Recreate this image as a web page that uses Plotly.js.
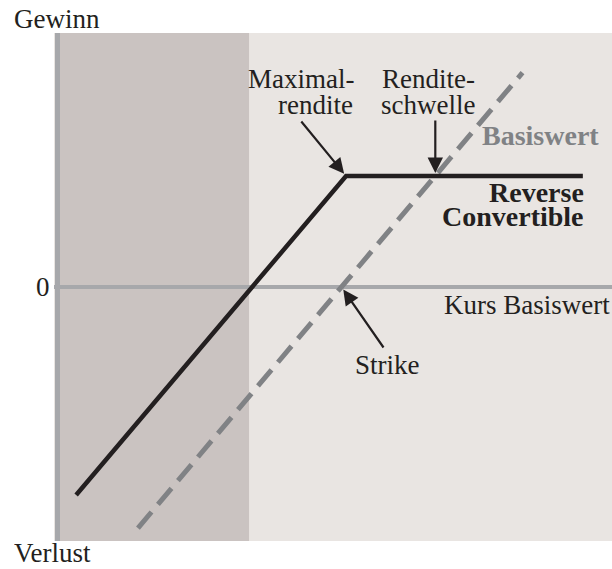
<!DOCTYPE html>
<html>
<head>
<meta charset="utf-8">
<script src="https://cdn.plot.ly/plotly-3.0.1.min.js"></script>
<style>html,body{margin:0;padding:0;background:#fff;}#chart{width:612px;height:569px;}</style>
</head>
<body>
<div id="chart"></div>
<script>
// Data (abstract units: x = Kurs Basiswert, y = Gewinn/Verlust)
var rcX = [0.76, 11.50, 20.92];      // Reverse Convertible payoff
var rcY = [-8.19, 4.37, 4.37];
var bwX = [3.22, 18.52];             // Basiswert (underlying)
var bwY = [-9.49, 8.44];
var barrierX = 7.64;                 // end of shaded zone
var strikeX = 11.32;                 // strike (Basiswert crosses 0)
var thresholdX = 15.05;              // Renditeschwelle
var labels = {
  gain: 'Gewinn', loss: 'Verlust', zero: '0', axis: 'Kurs Basiswert',
  maxRet1: 'Maximal-', maxRet2: 'rendite', thresh1: 'Rendite-', thresh2: 'schwelle',
  bw: 'Basiswert', rc1: 'Reverse', rc2: 'Convertible', strike: 'Strike'
};

var FONT = 'Liberation Serif';
var FS = 27;
var FSB = 28;
var TXT = '#231f20';
var GRAY = '#808285';

var traces = [
  {x: bwX, y: bwY, mode: 'lines', type: 'scatter', hoverinfo: 'skip',
   line: {color: GRAY, width: 5, dash: '21px,10px'}},
  {x: rcX, y: rcY, mode: 'lines', type: 'scatter', hoverinfo: 'skip',
   line: {color: TXT, width: 4.5}}
];

function txt(text, x, y, xa, extra) {
  var a = {text: text, x: x, y: y, xref: 'x', yref: 'y', showarrow: false,
    xanchor: xa, yanchor: 'middle', height: 24, borderpad: 0,
    font: {family: FONT, size: FS, color: TXT}};
  for (var k in extra) a[k] = extra[k];
  return a;
}
function arrow(x, y, ax, ay) {
  return {text: '', x: x, y: y, xref: 'x', yref: 'y', showarrow: true,
    ax: ax, ay: ay, arrowhead: 2, arrowsize: 1.4, arrowwidth: 2.2,
    arrowcolor: TXT, standoff: 3};
}
var BOLD_GRAY = {font: {family: FONT, size: FSB, color: GRAY, weight: 'bold'}};
var BOLD = {font: {family: FONT, size: FSB, color: TXT, weight: 'bold'}};

var annotations = [
  txt(labels.maxRet1, 11.85, 8.19, 'right'),
  txt(labels.maxRet2, 11.81, 7.17, 'right'),
  txt(labels.thresh1, 14.76, 8.19, 'center'),
  txt(labels.thresh2, 14.76, 7.17, 'center'),
  txt(labels.bw, 16.87, 5.98, 'left', BOLD_GRAY),
  txt(labels.rc1, 21.0, 3.76, 'right', BOLD),
  txt(labels.rc2, 21.0, 2.78, 'right', BOLD),
  txt(labels.strike, 13.13, -3.07, 'center'),
  txt(labels.axis, 22.04, -0.69, 'right'),
  txt(labels.zero, -0.0197, 0, 'center', {xref: 'paper'}),
  txt(labels.gain, -0.073, 1.0285, 'left', {xref: 'paper', yref: 'paper'}),
  txt(labels.loss, -0.073, -0.0236, 'left', {xref: 'paper', yref: 'paper'}),
  arrow(rcX[1], rcY[1], -46, -56),
  arrow(thresholdX, rcY[1], 0, -57),
  arrow(strikeX, 0, 43, 62)
];

var layout = {
  width: 612, height: 569,
  margin: {l: 54, r: 0, t: 33, b: 28, pad: 0},
  paper_bgcolor: '#ffffff',
  plot_bgcolor: '#e9e5e2',
  showlegend: false,
  xaxis: {range: [-0.12, 22.08], showgrid: false, showticklabels: false, ticks: '',
    zeroline: true, zerolinecolor: '#a7a8ab', zerolinewidth: 5, showline: false, fixedrange: true},
  yaxis: {range: [-10, 10], showgrid: false, showticklabels: false, ticks: '',
    zeroline: true, zerolinecolor: '#a7a8ab', zerolinewidth: 4.5, showline: false, fixedrange: true},
  shapes: [{type: 'rect', xref: 'x', yref: 'paper', x0: 0, x1: barrierX, y0: 0, y1: 1,
    fillcolor: '#cac3c1', line: {width: 0}, layer: 'below'}],
  annotations: annotations
};

Plotly.newPlot('chart', traces, layout, {staticPlot: true, displayModeBar: false});
</script>
</body>
</html>
